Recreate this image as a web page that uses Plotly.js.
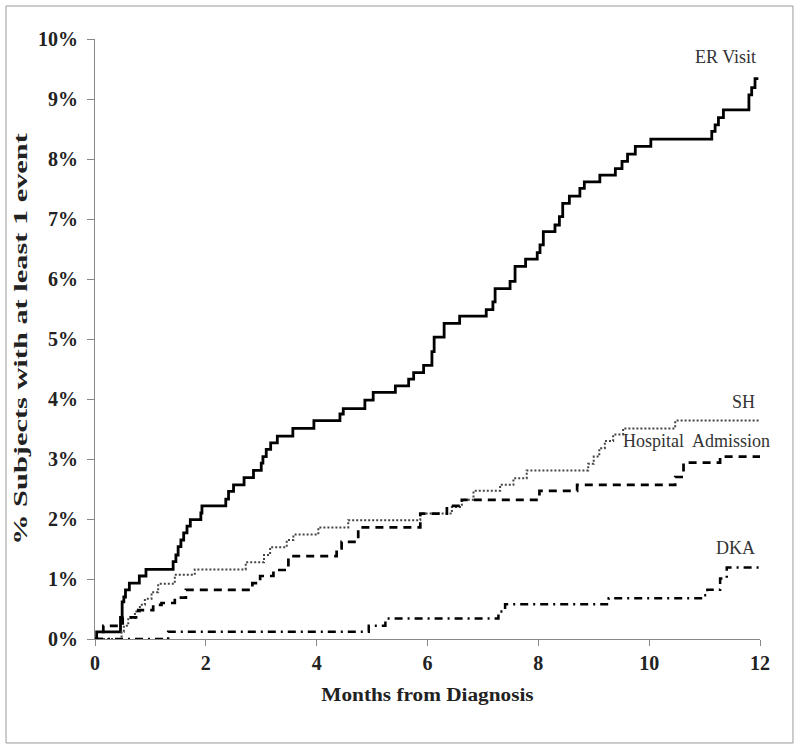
<!DOCTYPE html>
<html>
<head>
<meta charset="utf-8">
<script src="https://cdn.plot.ly/plotly-3.0.1.min.js"></script>
<style>
html,body{margin:0;padding:0;background:#fff;}
#chart{width:800px;height:750px;}
</style>
</head>
<body>
<div id="chart"></div>
<script>
// ER Visit (step points: month, cumulative %)
var erMonths = [0, 0.03, 0.46, 0.49, 0.52, 0.55, 0.62, 0.80, 0.92, 1.41, 1.46, 1.50, 1.55, 1.60, 1.66, 1.72, 1.91, 1.93, 2.36, 2.41, 2.50, 2.69, 2.86, 3.00, 3.03, 3.09, 3.17, 3.29, 3.57, 3.95, 4.42, 4.48, 4.87, 5.02, 5.42, 5.66, 5.75, 5.93, 6.08, 6.12, 6.30, 6.58, 7.06, 7.18, 7.22, 7.49, 7.58, 7.77, 7.98, 8.03, 8.09, 8.30, 8.38, 8.44, 8.56, 8.75, 8.83, 9.11, 9.39, 9.51, 9.61, 9.75, 10.03, 11.13, 11.19, 11.25, 11.34, 11.80, 11.85, 11.91, 11.97];
var erPct    = [0, 0.12, 0.36, 0.62, 0.70, 0.82, 0.93, 1.05, 1.16, 1.29, 1.40, 1.54, 1.65, 1.77, 1.88, 1.99, 2.10, 2.22, 2.33, 2.46, 2.57, 2.69, 2.81, 2.93, 3.04, 3.16, 3.27, 3.38, 3.51, 3.64, 3.75, 3.84, 3.98, 4.11, 4.22, 4.33, 4.44, 4.56, 4.79, 5.03, 5.26, 5.38, 5.49, 5.62, 5.84, 5.96, 6.21, 6.33, 6.44, 6.57, 6.79, 6.90, 7.04, 7.26, 7.38, 7.51, 7.62, 7.73, 7.84, 7.96, 8.08, 8.21, 8.33, 8.46, 8.57, 8.69, 8.82, 9.07, 9.19, 9.34, 9.34];

// SH
var shMonths = [0, 0.45, 0.48, 0.52, 0.60, 0.72, 0.81, 0.90, 1.02, 1.14, 1.44, 1.80, 2.72, 3.05, 3.16, 3.46, 3.58, 4.03, 4.57, 5.87, 6.44, 6.62, 6.83, 7.31, 7.55, 7.79, 8.90, 9.00, 9.10, 9.20, 9.35, 9.53, 10.47, 12.0];
var shPct    = [0, 0, 0.12, 0.22, 0.35, 0.46, 0.57, 0.67, 0.78, 0.92, 1.07, 1.16, 1.28, 1.40, 1.53, 1.65, 1.74, 1.86, 1.98, 2.09, 2.20, 2.32, 2.47, 2.57, 2.68, 2.81, 2.92, 3.04, 3.18, 3.30, 3.41, 3.51, 3.64, 3.64];

// Hospital Admission
var haMonths = [0, 0.15, 0.50, 0.78, 1.05, 1.20, 1.44, 1.64, 2.84, 2.98, 3.22, 3.49, 4.36, 4.45, 4.75, 5.87, 6.35, 6.62, 8.02, 8.70, 10.47, 10.62, 11.28, 12.0];
var haPct    = [0, 0.22, 0.36, 0.48, 0.57, 0.60, 0.69, 0.82, 0.93, 1.05, 1.15, 1.38, 1.51, 1.62, 1.86, 2.09, 2.22, 2.32, 2.47, 2.57, 2.70, 2.94, 3.04, 3.04];

// DKA
var dkaMonths = [0, 1.32, 4.94, 5.24, 7.28, 7.40, 9.27, 10.98, 11.05, 11.28, 11.40, 12.0];
var dkaPct    = [0, 0.12, 0.22, 0.34, 0.46, 0.58, 0.68, 0.73, 0.82, 1.01, 1.19, 1.19];

// Labels
var seriesNames = ["ER Visit", "SH", "Hospital&nbsp; Admission", "DKA"];
var yTickVals = [0,1,2,3,4,5,6,7,8,9,10];
var yTickText = ["0%","1%","2%","3%","4%","5%","6%","7%","8%","9%","10%"];
var xTickVals = [0,2,4,6,8,10,12];
var xTitle = "Months from Diagnosis";
var yTitle = "% Subjects with at least 1 event";

var serif = "'Liberation Serif', 'Times New Roman', serif";

var traces = [
  {x: erMonths, y: erPct, name: "ER Visit", mode: "lines", line: {shape: "hv", color: "#000", width: 2.8}},
  {x: shMonths, y: shPct, name: "SH", mode: "lines", line: {shape: "hv", color: "#444", width: 2, dash: "2px,2px"}},
  {x: haMonths, y: haPct, name: "Hospital Admission", mode: "lines", line: {shape: "hv", color: "#000", width: 2.7, dash: "8px,6px"}},
  {x: dkaMonths, y: dkaPct, name: "DKA", mode: "lines", line: {shape: "hv", color: "#000", width: 2.5, dash: "8px,5px,2px,5px"}}
];

var labelFont = {family: serif, size: 18, color: "#333"};

var layout = {
  width: 800, height: 750,
  margin: {l: 95, r: 40, t: 39, b: 111, pad: 0},
  paper_bgcolor: "#fff", plot_bgcolor: "#fff",
  showlegend: false,
  xaxis: {
    range: [0, 12], tickvals: xTickVals, ticks: "outside", ticklen: 6, tickcolor: "#888",
    showline: true, linecolor: "#888", linewidth: 1, showgrid: false, zeroline: false,
    tickfont: {family: serif, size: 20, color: "#222", weight: "bold"},
    title: {text: xTitle, font: {family: serif, size: 19, color: "#222", weight: "bold"}, standoff: 14}
  },
  yaxis: {
    range: [0, 10], tickvals: yTickVals, ticktext: yTickText, ticks: "outside", ticklen: 7, tickcolor: "#888",
    showline: true, linecolor: "#888", linewidth: 1, showgrid: false, zeroline: false,
    ticklabelstandoff: 5,
    tickfont: {family: serif, size: 20, color: "#222", weight: "bold"},
    title: {text: yTitle, font: {family: serif, size: 19, color: "#222", weight: "bold"}, standoff: 6}
  },
  annotations: [
    {xref: "x", yref: "y", x: 11.97, y: 9.7, text: seriesNames[0], showarrow: false, xanchor: "right", yanchor: "middle", font: labelFont},
    {xref: "x", yref: "y", x: 11.95, y: 3.95, text: seriesNames[1], showarrow: false, xanchor: "right", yanchor: "middle", font: labelFont},
    {xref: "x", yref: "y", x: 9.5, y: 3.3, text: seriesNames[2], showarrow: false, xanchor: "left", yanchor: "middle", font: labelFont},
    {xref: "x", yref: "y", x: 11.95, y: 1.52, text: seriesNames[3], showarrow: false, xanchor: "right", yanchor: "middle", font: labelFont}
  ],
  shapes: [
    {type: "rect", xref: "paper", yref: "paper", x0: -0.1338, x1: 1.0496, y0: -0.1733, y1: 1.055,
     line: {color: "#999", width: 1}, fillcolor: "rgba(0,0,0,0)", layer: "below"}
  ]
};

function stretch(el, sx, dx) {
  if (!el) return;
  var cx = parseFloat(el.getAttribute("x")) || 0;
  var cy = parseFloat(el.getAttribute("y")) || 0;
  var t = el.getAttribute("transform") || "";
  el.setAttribute("transform", "translate(" + (dx || 0) + ",0) " + t + " translate(" + cx + "," + cy + ") scale(" + sx + ",1) translate(" + (-cx) + "," + (-cy) + ")");
}

Plotly.newPlot("chart", traces, layout, {staticPlot: true, displayModeBar: false}).then(function (gd) {
  // the original figure's axis titles are drawn stretched along their length
  stretch(gd.querySelector("text.ytitle"), 1.6, 1);
  stretch(gd.querySelector("text.xtitle"), 1.12, 0);
});
</script>
</body>
</html>
